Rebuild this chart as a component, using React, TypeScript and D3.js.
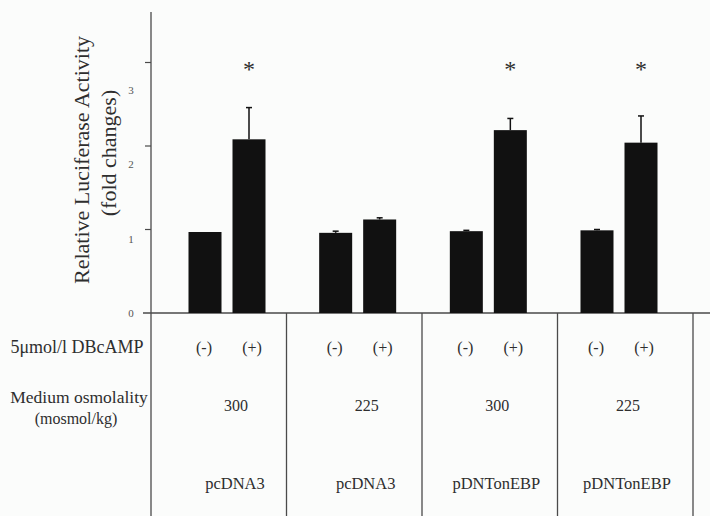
import React from 'react';
import * as d3 from 'd3';

// values
const plasmids = ['pcDNA3', 'pcDNA3', 'pDNTonEBP', 'pDNTonEBP'];
const osmolality = ['300', '225', '300', '225'];
const treatments = ['(-)', '(+)'];
const meanMinus = [0.97, 0.96, 0.98, 0.99];
const meanPlus = [2.08, 1.12, 2.19, 2.04];
const semMinus = [0, 0.02, 0.01, 0.01];
const semPlus = [0.38, 0.02, 0.14, 0.32];
const significant = [true, false, true, true];
const yTicks = [0, 1, 2, 3];

const W = 710;
const H = 516;
const serif = 'Liberation Serif';

const App = () => {
    const axisX = 151;
    const baseY = 313;

    const y = d3.scaleLinear().domain([0, 4]).range([baseY, baseY - 4 * 83.5]);
    // the printed tick numbers sit a little off their tick marks in the original
    const yLabel = d3.scaleLinear().domain([0, 3]).range([baseY, 90]);

    const idx = d3.range(plasmids.length);
    const gx = d3.scaleBand().domain(idx.map(String)).range([axisX, 693]);
    const groupCenter = d3.scaleLinear().domain([0, 3]).range([227, 619]);
    const bx = d3.scalePoint().domain(treatments).range([-22, 22]);
    const barW = 33;

    const bars = plasmids.flatMap((p, i) => [
        { g: i, t: treatments[0], v: meanMinus[i], e: semMinus[i], star: false },
        { g: i, t: treatments[1], v: meanPlus[i], e: semPlus[i], star: significant[i] },
    ]);
    const cx = (g, t) => groupCenter(g) + bx(t);

    const ink = '#111';
    const line = '#4a4a4a';
    const text = '#2e2e2e';

    return (
        <div style={{ position: 'fixed', left: 0, top: 0 }}>
            <svg width={W} height={H} style={{ display: 'block', background: '#fbfcfb' }} fontFamily={serif}>
                {/* y axis line runs through the table as well */}
                <line x1={axisX} x2={axisX} y1={12} y2={H} stroke={line} strokeWidth={1.3} />
                <line x1={axisX - 8} x2={W} y1={baseY} y2={baseY} stroke={line} strokeWidth={1.5} />
                {yTicks.slice(1).map(t => (
                    <line key={t} x1={axisX - 6} x2={axisX} y1={y(t)} y2={y(t)} stroke={line} strokeWidth={1.2} />
                ))}
                {yTicks.map(t => (
                    <text key={t} x={131} y={yLabel(t)} dy="0.35em" textAnchor="middle"
                        fontSize={11} fill="#555">{t}</text>
                ))}
                <text transform="translate(89,160) rotate(-90)" textAnchor="middle"
                    fontSize={22} fill={text}>Relative Luciferase Activity</text>
                <text transform="translate(116,153) rotate(-90)" textAnchor="middle"
                    fontSize={22} fill={text}>(fold changes)</text>

                {bars.map((b, i) => {
                    const x0 = cx(b.g, b.t);
                    return (
                        <g key={i}>
                            {b.e > 0 && (
                                <g stroke={ink} strokeWidth={1.5}>
                                    <line x1={x0} x2={x0} y1={y(b.v)} y2={y(b.v + b.e)} />
                                    <line x1={x0 - 3} x2={x0 + 3} y1={y(b.v + b.e)} y2={y(b.v + b.e)} />
                                </g>
                            )}
                            <rect x={x0 - barW / 2} y={y(b.v)} width={barW} height={baseY - y(b.v)} fill={ink} />
                            {b.star && (
                                <text x={x0} y={y(3)} dy="0.6em" textAnchor="middle"
                                    fontSize={24} fill={text}>*</text>
                            )}
                        </g>
                    );
                })}

                {/* table below the plot */}
                {idx.map(i => (
                    <line key={i} x1={gx(String(i)) + gx.bandwidth()} x2={gx(String(i)) + gx.bandwidth()}
                        y1={baseY} y2={H} stroke={line} strokeWidth={1.3} />
                ))}
                <text x={77} y={347} dy="0.35em" textAnchor="middle" fontSize={18} fill={text}>5μmol/l DBcAMP</text>
                <text x={79} y={397} dy="0.35em" textAnchor="middle" fontSize={17.5} fill={text}>Medium osmolality</text>
                <text x={76} y={418} dy="0.35em" textAnchor="middle" fontSize={16} fill={text}>(mosmol/kg)</text>
                {bars.map((b, i) => (
                    <text key={i} x={cx(b.g, b.t) + (b.t === '(+)' ? 3 : -1)} y={347} dy="0.35em" textAnchor="middle"
                        fontSize={16} fill={text}>{b.t}</text>
                ))}
                {osmolality.map((o, i) => (
                    <text key={i} x={groupCenter(i) + 9} y={405} dy="0.35em" textAnchor="middle"
                        fontSize={16} fill={text}>{o}</text>
                ))}
                {plasmids.map((p, i) => (
                    <text key={i} x={groupCenter(i) + 8} y={483} dy="0.35em" textAnchor="middle"
                        fontSize={16.5} fill={text}>{p}</text>
                ))}
            </svg>
        </div>
    );
};

export default App;
